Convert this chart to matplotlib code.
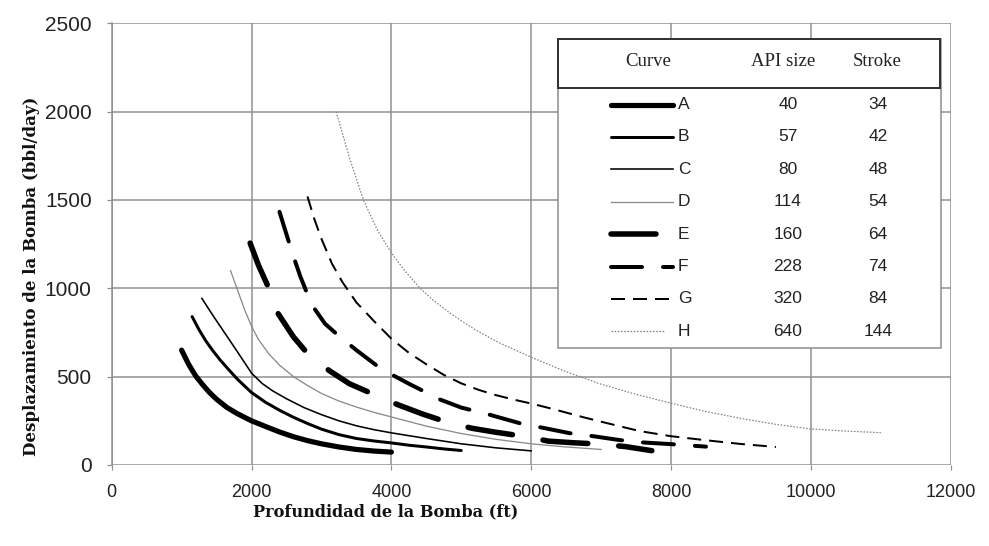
import matplotlib
matplotlib.use('Agg')
import matplotlib.pyplot as plt
from matplotlib.patches import Rectangle
from matplotlib.lines import Line2D

plt.rcParams['lines.scale_dashes'] = False

# ---------------- data ----------------
curve_names = ['A', 'B', 'C', 'D', 'E', 'F', 'G', 'H']
api_size = [40, 57, 80, 114, 160, 228, 320, 640]
stroke = [34, 42, 48, 54, 64, 74, 84, 144]

a_depth = [1000, 1100, 1200, 1300, 1400, 1500, 1650, 1800, 2000, 2200, 2400, 2600,
           2800, 3000, 3250, 3500, 3750, 4000]
a_disp = [650, 570, 505, 455, 410, 372, 325, 290, 250, 218, 187, 160,
          138, 120, 102, 88, 79, 73]

b_depth = [1150, 1250, 1350, 1450, 1550, 1650, 1800, 2000, 2200, 2400, 2600, 2800,
           3000, 3250, 3500, 3750, 4000, 4250, 4500, 4750, 5000]
b_disp = [840, 765, 700, 645, 595, 550, 485, 410, 355, 310, 270, 235,
          203, 172, 150, 136, 125, 112, 102, 91, 82]

c_depth = [1290, 1450, 1650, 1850, 2000, 2150, 2300, 2500, 2750, 3000, 3250, 3500,
           3750, 4000, 4500, 5000, 5500, 6000]
c_disp = [943, 845, 728, 610, 520, 462, 420, 375, 325, 285, 250, 222,
          200, 182, 150, 120, 97, 80]

d_depth = [1700, 1800, 1900, 2000, 2100, 2250, 2400, 2600, 2800, 3000, 3250, 3500,
           3750, 4000, 4500, 5000, 5500, 6000, 6500, 7000]
d_disp = [1100, 990, 880, 785, 710, 628, 565, 500, 450, 405, 362, 328,
          298, 272, 220, 178, 145, 120, 102, 88]

e_depth = [1980, 2100, 2265, 2383, 2600, 2830, 3120, 3400, 3770, 4100, 4450, 4800,
           5150, 5500, 5900, 6250, 6600, 7000, 7350, 7725]
e_disp = [1256, 1130, 985, 855, 725, 617, 532, 460, 396, 340, 288, 242,
          208, 185, 162, 135, 126, 118, 104, 81]

f_depth = [2400, 2500, 2600, 2700, 2800, 2900, 3050, 3250, 3500, 3800, 4000, 4250,
           4500, 4700, 5000, 5400, 5850, 6150, 6550, 6800, 7250, 7500, 8000, 8500]
f_disp = [1433, 1305, 1180, 1065, 966, 885, 800, 730, 650, 560, 513, 460,
          410, 370, 325, 285, 235, 212, 180, 168, 142, 130, 118, 104]

g_depth = [2800, 2900, 3000, 3150, 3300, 3500, 3750, 4000, 4250, 4500, 4750, 5000,
           5250, 5500, 5750, 6000, 6300, 6750, 7000, 7550, 8000, 8500, 9000, 9500]
g_disp = [1520, 1390, 1280, 1140, 1035, 920, 815, 715, 635, 570, 510, 462,
          425, 395, 370, 348, 318, 270, 245, 192, 163, 140, 119, 102]

h_depth = [3210, 3400, 3600, 3800, 4000, 4200, 4400, 4600, 4850, 5200, 5550, 6000,
           6500, 7000, 7500, 8000, 8500, 9000, 9500, 10000, 10500, 11000]
h_disp = [2000, 1740, 1500, 1330, 1200, 1095, 1005, 932, 856, 765, 690, 610,
          528, 457, 400, 350, 302, 264, 230, 204, 192, 183]

x_ticks = [0, 2000, 4000, 6000, 8000, 10000, 12000]
y_ticks = [0, 500, 1000, 1500, 2000, 2500]

header = ['Curve', 'API size', 'Stroke']
xlabel = 'Profundidad de la Bomba (ft)'
ylabel = 'Desplazamiento de la Bomba (bbl/day)'

depths = [a_depth, b_depth, c_depth, d_depth, e_depth, f_depth, g_depth, h_depth]
disps = [a_disp, b_disp, c_disp, d_disp, e_disp, f_disp, g_disp, h_disp]

# ---------------- styles ----------------
PX = 0.72  # points per pixel at dpi 100
styles = [
    dict(color='black', lw=5.2 * PX, ls='-', solid_capstyle='round', solid_joinstyle='round'),
    dict(color='black', lw=3.0 * PX, ls='-', solid_capstyle='round', solid_joinstyle='round'),
    dict(color='black', lw=1.6 * PX, ls='-', solid_joinstyle='round'),
    dict(color='#8a8a8a', lw=1.3 * PX, ls='-', solid_joinstyle='round'),
    dict(color='black', lw=5.5 * PX, dashes=(45 * PX, 31 * PX), dash_capstyle='round',
         dash_joinstyle='round'),
    dict(color='black', lw=4.0 * PX, dashes=(31 * PX, 21 * PX), dash_capstyle='round',
         dash_joinstyle='round'),
    dict(color='black', lw=2.0 * PX, dashes=(14 * PX, 8 * PX)),
    dict(color='#808080', lw=1.2 * PX, dashes=(1.6 * PX, 1.6 * PX)),
]

W, H = 989, 546
fig = plt.figure(figsize=(W / 100, H / 100), dpi=100)
fig.patch.set_facecolor('white')
ax = fig.add_axes([111.7 / W, 1 - 465 / H, (950.7 - 111.7) / W, (465 - 23.3) / H])

for dx, dy, st in zip(depths, disps, styles):
    ax.plot(dx, dy, zorder=3, **st)

gcol = '#8e8e8e'
ax.set_xlim(0, 12000)
ax.set_ylim(0, 2500)
ax.set_xticks(x_ticks)
ax.set_yticks(y_ticks)
ax.set_xticklabels([str(t) for t in x_ticks], family='Liberation Sans', fontsize=13)
ax.set_yticklabels([str(t) for t in y_ticks], family='Liberation Sans', fontsize=15)
ax.grid(True, color=gcol, lw=1.5 * PX, zorder=0)
ax.set_axisbelow(True)
for s in ax.spines.values():
    s.set_color(gcol)
    s.set_linewidth(1.5 * PX)
ax.spines['bottom'].set_visible(False)
ax.spines['right'].set_visible(False)
ax.spines['top'].set_visible(False)
ax.tick_params(axis='both', colors=gcol, length=5 * PX, width=1.2 * PX, labelcolor='#222222')
ax.tick_params(axis='x', pad=14 * PX)
ax.tick_params(axis='y', pad=15 * PX)

# axis labels
fig.text(386 / W, 1 - 512 / H, xlabel, ha='center', va='center', family='DejaVu Serif',
         fontweight='bold', fontsize=11.6, color='#111111')
fig.text(32 / W, 1 - 276 / H, ylabel, ha='center', va='center', rotation=90,
         family='DejaVu Serif', fontweight='bold', fontsize=12, color='#111111')

# ---------------- legend table ----------------
def fx(px):
    return px / W

def fy(py):
    return 1 - py / H

tf = fig.transFigure
outer = Rectangle((fx(558), fy(348)), fx(941) - fx(558), fy(39) - fy(348), transform=tf,
                  facecolor='white', edgecolor='#8a8a8a', lw=1.5 * PX, zorder=10)
fig.add_artist(outer)
head = Rectangle((fx(558), fy(88)), fx(940) - fx(558), fy(39) - fy(88), transform=tf,
                 facecolor='white', edgecolor='#333333', lw=2.0 * PX, zorder=11)
fig.add_artist(head)

for txt, cx in zip(header, [648, 783, 877]):
    fig.text(fx(cx), fy(62), txt, ha='center', va='center', family='Liberation Serif',
             fontsize=13.5, color='#222222', zorder=12)

row_y0, row_dy = 104.5, 32.4
line_end = [673, 673, 673, 673, 663, 673, 673, 665]
for i, name in enumerate(curve_names):
    yy = row_y0 + i * row_dy
    ln = Line2D([fx(611), fx(line_end[i])], [fy(yy), fy(yy)], transform=tf, zorder=12,
                **styles[i])
    fig.add_artist(ln)
    fig.text(fx(678), fy(yy), name, ha='left', va='center', family='Liberation Sans',
             fontsize=12.5, color='#222222', zorder=12)
    fig.text(fx(788), fy(yy), str(api_size[i]), ha='center', va='center',
             family='Liberation Sans', fontsize=12.5, color='#222222', zorder=12)
    fig.text(fx(878), fy(yy), str(stroke[i]), ha='center', va='center',
             family='Liberation Sans', fontsize=12.5, color='#222222', zorder=12)

fig.savefig('out.png', dpi=100)
